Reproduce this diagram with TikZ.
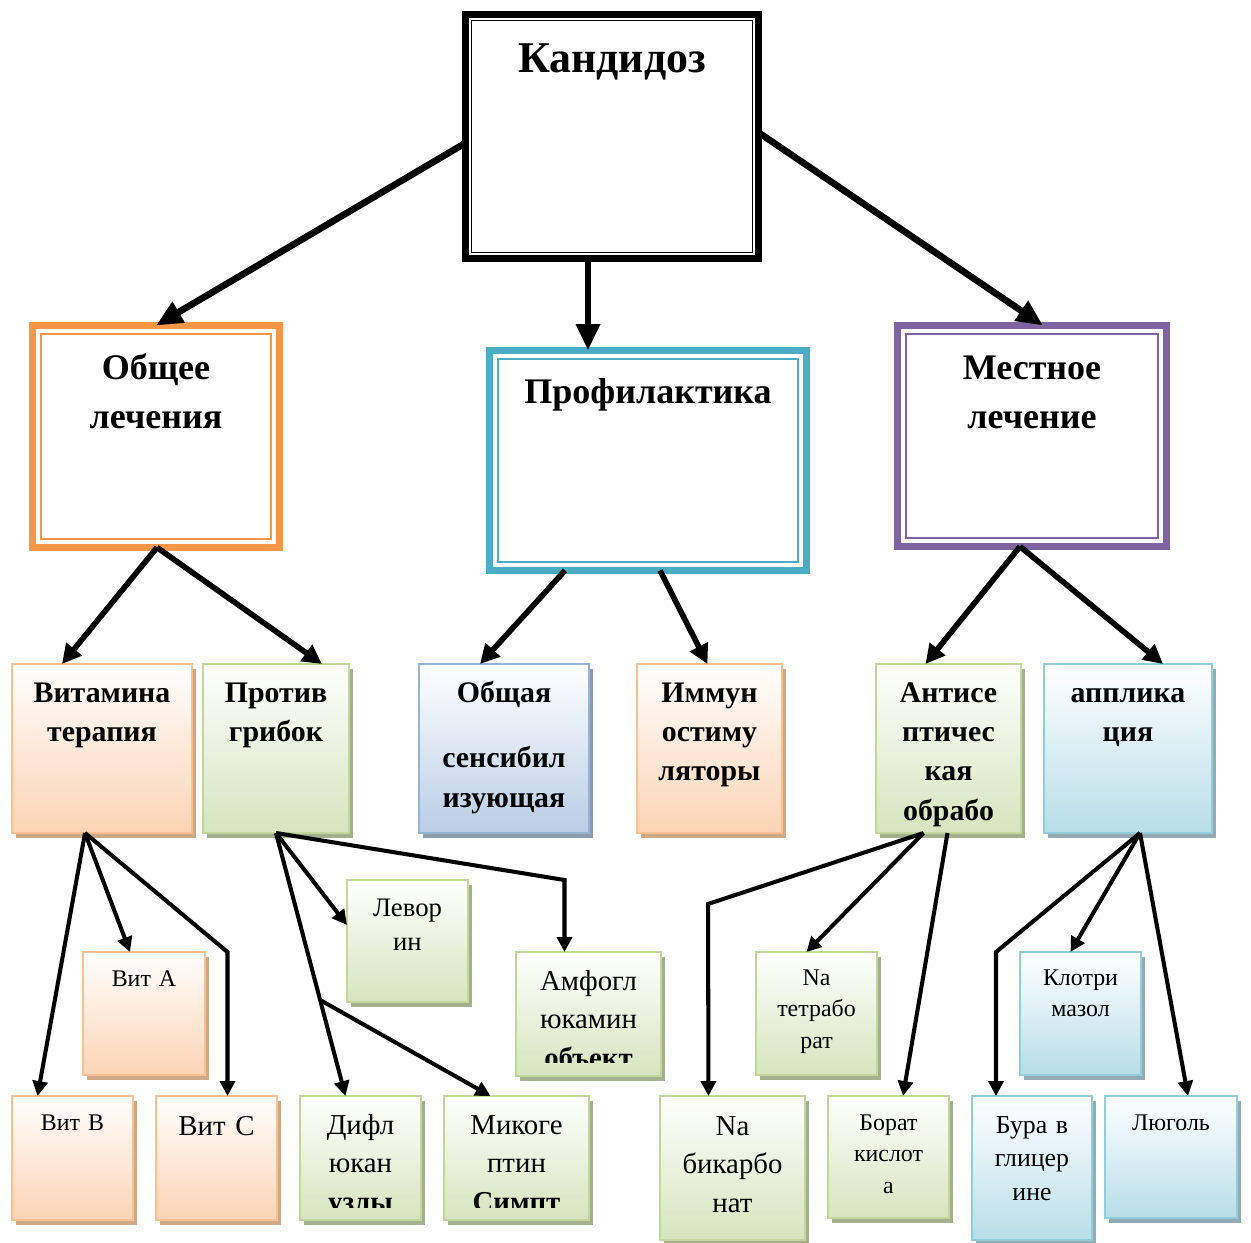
\documentclass[tikz,border=0pt]{standalone}
\usepackage{fontspec}
\setmainfont{Liberation Serif}
\usetikzlibrary{arrows.meta,shadows,calc}
\definecolor{orgB}{HTML}{F79646}
\definecolor{bluB}{HTML}{4BACC6}
\definecolor{purB}{HTML}{8064A2}
\definecolor{peD}{HTML}{FAC08F}
\definecolor{peF}{HTML}{FBD4B4}
\definecolor{peS}{HTML}{CFA886}
\definecolor{grD}{HTML}{C3D69B}
\definecolor{grF}{HTML}{D7E4BD}
\definecolor{grS}{HTML}{A4B08C}
\definecolor{bgD}{HTML}{95B3D7}
\definecolor{bgF}{HTML}{B9CDE5}
\definecolor{bgS}{HTML}{8E9AAE}
\definecolor{lbD}{HTML}{92CDDC}
\definecolor{lbF}{HTML}{B7DEE8}
\definecolor{lbS}{HTML}{93ACB3}
\newcommand\bx[6]{\node[#6, minimum width={(#4-#2)*0.02cm}, minimum height={(#5-#3)*0.02cm}] (#1) at ({(#2+#4)/2},{(#3+#5)/2}) {};}
\newcommand\tx[5]{\node[anchor=base, text width=5cm, align=center, inner sep=0pt, font=#4] (#1) at (#2,#3) {#5};}
\newcommand\inr[3]{\draw[#2, line width=1.1pt] ([shift={(#3,#3)}]#1.north west) rectangle ([shift={(-#3,-#3)}]#1.south east);}
\tikzset{
  bigbox/.style={draw=#1, line width=3.9pt, fill=white, inner sep=0pt, outer sep=0pt},
  sbox/.style n args={3}{draw=#1, line width=1.3pt, top color=white, bottom color=#2,
     drop shadow={fill=#3, opacity=1, shadow xshift=0.08cm, shadow yshift=-0.1cm},
     inner sep=0pt, outer sep=0pt},
  peachbox/.style={sbox={peD}{peF}{peS}},
  greenbox/.style={sbox={grD}{grF}{grS}},
  bluebox/.style={sbox={bgD}{bgF}{bgS}},
  lbluebox/.style={sbox={lbD}{lbF}{lbS}},
  arrA/.style={line width=3.8pt, -{Triangle[length=15pt,width=13pt]}},
  arrB/.style={line width=3.2pt, -{Triangle[length=11pt,width=11pt]}},
  arrC/.style={line width=2.3pt, -{Triangle[length=8.5pt,width=8.5pt]}},
}
\newcommand\fA{\fontsize{25}{30}\selectfont\bfseries}
\newcommand\fB{\fontsize{20.5}{27.5}\selectfont\bfseries}
\newcommand\fC{\fontsize{17}{22.4}\selectfont\bfseries}
\newcommand\fS{\fontsize{13.6}{18.1}\selectfont}
\newcommand\fL{\fontsize{16.4}{22}\selectfont}
\newcommand\fM{\fontsize{14.7}{19.3}\selectfont}
\newcommand\fV{\fontsize{15.2}{19.8}\selectfont}
\begin{document}
\begin{tikzpicture}[x=0.02cm,y=-0.02cm]
\useasboundingbox (0,0) rectangle (1251,1243);
% big boxes
\bx{kand}{465.5}{14.5}{758.5}{258.5}{bigbox=black}
\inr{kand}{black}{6}
\bx{gen2}{32.5}{325.5}{279.5}{547.5}{bigbox=orgB}
\inr{gen2}{orgB}{8.5}
\bx{prof}{489.5}{350.5}{806.5}{570.5}{bigbox=bluB}
\inr{prof}{bluB}{8.5}
\bx{mest}{897.5}{325.5}{1166.5}{546.5}{bigbox=purB}
\inr{mest}{purB}{8.5}
\tx{kandT}{612}{73}{\fA}{Кандидоз}
\tx{gen2T}{156}{380}{\fB}{Общее\\лечения}
\tx{profT}{648}{404}{\fB}{Профилактика}
\tx{mestT}{1032}{380}{\fB}{Местное\\лечение}
% level 3
\bx{vit}{12}{664}{192}{833}{peachbox}
\bx{prot}{203}{664}{349}{833}{greenbox}
\bx{gen}{419}{664}{589}{833}{bluebox}
\bx{imm}{637}{664}{782}{833}{peachbox}
\bx{anti}{876}{664}{1021}{833}{greenbox}
\bx{appl}{1044}{664}{1212}{833}{lbluebox}
\tx{vitT}{102}{702}{\fC}{Витамина\\терапия}
\tx{protT}{276}{702}{\fC}{Против\\грибок}
\tx{genT}{504}{702}{\fC}{Общая\\[15pt]сенсибил\\изующая}
\tx{immT}{709.5}{702}{\fC}{Иммун\\остиму\\ляторы}
\tx{antiT}{948.5}{702}{\fC}{Антисе\\птичес\\кая\\обрабо}
\tx{applT}{1128}{702}{\fC}{апплика\\ция}
% level 4
\bx{vitA}{83}{952}{205}{1075}{peachbox}
\bx{levor}{347}{880}{468}{1002}{greenbox}
\bx{amf}{516}{952}{661}{1076}{greenbox}
\bx{ntet}{756}{952}{877}{1075}{greenbox}
\bx{klot}{1020}{952}{1141}{1075}{lbluebox}
% level 5
\bx{vitB}{12}{1096}{133}{1220}{peachbox}
\bx{vitC}{156}{1096}{277}{1220}{peachbox}
\bx{difl}{300}{1096}{421}{1220}{greenbox}
\bx{mik}{444}{1096}{589}{1220}{greenbox}
\bx{nbic}{660}{1096}{805}{1240}{greenbox}
\bx{borat}{828}{1096}{949}{1218}{greenbox}
\bx{bura}{972}{1096}{1092}{1240}{lbluebox}
\bx{lug}{1105}{1096}{1237}{1218}{lbluebox}
\tx{vitAT}{144}{986}{\fS}{Вит А}
\tx{levorT}{407.5}{916}{\fV}{Левор\\ин}
\begin{scope}
\clip (516,952) rectangle (661,1062);
\tx{amfT}{588.5}{990}{\fL}{Амфогл\\юкамин\\\textbf{объект}}
\end{scope}
\tx{ntetT}{816.5}{985}{\fS}{Na\\тетрабо\\рат}
\tx{klotT}{1080.5}{985}{\fS}{Клотри\\мазол}
\tx{vitBT}{72.5}{1130}{\fS}{Вит В}
\tx{vitCT}{216.5}{1135}{\fL}{Вит С}
\begin{scope}
\clip (300,1096) rectangle (421,1207);
\tx{diflT}{360.5}{1134}{\fL}{Дифл\\юкан\\\textbf{узлы}}
\end{scope}
\begin{scope}
\clip (444,1096) rectangle (589,1207);
\tx{mikT}{516.5}{1134}{\fL}{Микоге\\птин\\\textbf{Симпт}}
\end{scope}
\tx{nbicT}{732.5}{1135}{\fL}{Na\\бикарбо\\нат}
\tx{boratT}{888.5}{1130}{\fS}{Борат\\кислот\\а}
\tx{buraT}{1032}{1133}{\fM}{Бура в\\глицер\\ине}
\tx{lugT}{1171}{1130}{\fS}{Люголь}
% connectors level 1
\draw[arrA] ([shift={(0,6.5)}]kand.west) -- (gen2.north);
\coordinate (kS) at ([shift={(-24,0)}]kand.south);
\draw[arrA] (kS) -- (kS |- prof.north);
\draw[arrA] ([shift={(0,-4)}]kand.east) -- ([shift={(11,0)}]mest.north);
% level 2
\draw[arrB] ([shift={(1,0)}]gen2.south) -- ([shift={(-40,0)}]vit.north);
\draw[arrB] ([shift={(1,0)}]gen2.south) -- ([shift={(46,0)}]prot.north);
\draw[arrB] ([shift={(-83,0)}]prof.south) -- ([shift={(-24,0)}]gen.north);
\draw[arrB] ([shift={(12,0)}]prof.south) -- ([shift={(-2,0)}]imm.north);
\draw[arrB] ([shift={(-12,0)}]mest.south) -- ([shift={(-23,0)}]anti.north);
\draw[arrB] ([shift={(-12,0)}]mest.south) -- ([shift={(35,0)}]appl.north);
% level 3
\coordinate (vS) at ([shift={(-17,0)}]vit.south);
\coordinate (cT) at ([shift={(11,0)}]vitC.north);
\draw[arrC] (vS) -- ([shift={(-35,0)}]vitB.north);
\draw[arrC] (vS) -- ([shift={(-14,0)}]vitA.north);
\draw[arrC] (vS) -- (cT |- vitA.north) -- (cT);
\coordinate (dT) at ([shift={(-15,0)}]difl.north);
\coordinate (aT) at ([shift={(-24,0)}]amf.north);
\draw[arrC] (prot.south) -- ([shift={(0,-16)}]levor.west);
\draw[arrC] (prot.south) -- (dT);
\draw[arrC] ($(prot.south)!0.635!(dT)$) -- ([shift={(-26,0)}]mik.north);
\draw[arrC] (prot.south) -- (aT |- levor.north) -- (aT);
\coordinate (tS) at ([shift={(-25,0)}]anti.south);
\coordinate (nT) at ([shift={(-24,0)}]nbic.north);
\coordinate (nK) at (708,904);
\draw[arrC] (tS) -- (nK) -- (nT);
\draw[arrC] (tS) -- ([shift={(-10,0)}]ntet.north);
\draw[arrC] ([shift={(-1,0)}]anti.south) -- ([shift={(14.5,0)}]borat.north);
\coordinate (pS) at ([shift={(12,0)}]appl.south);
\coordinate (bT) at ([shift={(-36,0)}]bura.north);
\draw[arrC] (pS) -- (bT |- klot.north) -- (bT);
\draw[arrC] (pS) -- ([shift={(-10,0)}]klot.north);
\draw[arrC] (pS) -- ([shift={(17,0)}]lug.north);
\end{tikzpicture}
\end{document}
